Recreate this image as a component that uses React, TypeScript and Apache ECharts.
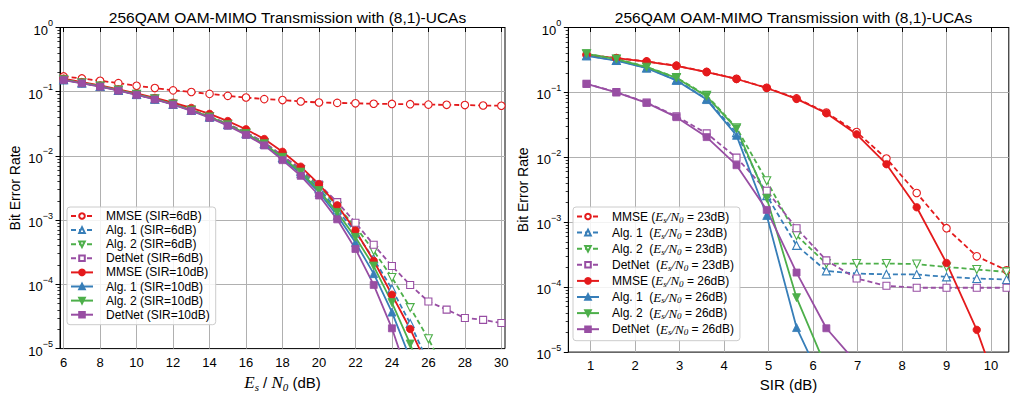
import React, { useEffect, useRef } from "react";
import * as echarts from "echarts";

// ---------------- data ----------------
const leftX = [6, 7, 8, 9, 10, 11, 12, 13, 14, 15, 16, 17, 18, 19, 20, 21, 22, 23, 24, 25, 26, 27, 28, 29, 30];
const leftTicks = [6, 8, 10, 12, 14, 16, 18, 20, 22, 24, 26, 28, 30];

const mmse6 = [0.173, 0.161, 0.148, 0.136, 0.124, 0.114, 0.105, 0.099, 0.0925, 0.0862, 0.0812, 0.0767, 0.0741, 0.0705, 0.068, 0.067, 0.066, 0.065, 0.0645, 0.064, 0.063, 0.0625, 0.062, 0.061, 0.0605];
const alg1_6 = [0.154, 0.137, 0.121, 0.105, 0.0905, 0.0768, 0.064, 0.0515, 0.0405, 0.0308, 0.0225, 0.0157, 0.0095, 0.0058, 0.0031, 0.00145, 0.00065, 0.00025, 0.000085, 0.0000247, 0.000006];
const alg2_6 = [0.155, 0.138, 0.122, 0.106, 0.091, 0.0773, 0.0645, 0.052, 0.041, 0.0312, 0.0228, 0.016, 0.0098, 0.0061, 0.0034, 0.00165, 0.00079, 0.000334, 0.000128, 0.0000435, 0.0000142, 0.000004];
const detnet6 = [0.156, 0.138, 0.122, 0.106, 0.0912, 0.0775, 0.0648, 0.0523, 0.0413, 0.0316, 0.0232, 0.0163, 0.0101, 0.0063, 0.0036, 0.00191, 0.00091, 0.000415, 0.000193, 0.000098, 0.000054, 0.0000405, 0.00003, 0.000028, 0.000025];
const mmse10 = [0.16, 0.141, 0.125, 0.109, 0.094, 0.08, 0.0674, 0.0559, 0.0452, 0.0349, 0.026, 0.0183, 0.0116, 0.0068, 0.00365, 0.0017, 0.000688, 0.000233, 0.000069, 0.0000202, 0.000005];
const alg1_10 = [0.153, 0.136, 0.121, 0.105, 0.09, 0.0765, 0.0635, 0.051, 0.04, 0.0302, 0.0218, 0.015, 0.0091, 0.0053, 0.0027, 0.00118, 0.00045, 0.000147, 0.000037, 0.000007];
const alg2_10 = [0.154, 0.137, 0.122, 0.106, 0.091, 0.0772, 0.0642, 0.0516, 0.0405, 0.0307, 0.0223, 0.0155, 0.0095, 0.0056, 0.00289, 0.00132, 0.00054, 0.000193, 0.000052, 0.0000118, 0.000002];
const detnet10 = [0.152, 0.135, 0.12, 0.104, 0.0893, 0.0757, 0.0628, 0.0502, 0.0393, 0.0296, 0.0213, 0.0146, 0.0086, 0.0049, 0.00242, 0.00103, 0.000356, 0.000098, 0.0000207, 0.000003];

const rightX = [0.91, 1.58, 2.26, 2.93, 3.61, 4.28, 4.96, 5.63, 6.3, 6.98, 7.65, 8.33, 9.0, 9.68, 10.35];
const rightTicks = [1, 2, 3, 4, 5, 6, 7, 8, 9, 10];

const mmse23 = [0.38, 0.338, 0.3, 0.258, 0.207, 0.162, 0.118, 0.081, 0.049, 0.0245, 0.00958, 0.00282, 0.00081, 0.000299, 0.000182];
const alg1_23 = [0.368, 0.312, 0.239, 0.155, 0.079, 0.024, 0.00257, 0.00044, 0.000178, 0.000162, 0.000158, 0.000157, 0.000144, 0.000136, 0.000131];
const alg2_23 = [0.395, 0.328, 0.247, 0.169, 0.09, 0.0286, 0.00435, 0.000626, 0.000231, 0.000231, 0.000231, 0.000227, 0.000205, 0.000187, 0.000172];
const detnet23 = [0.136, 0.101, 0.07, 0.043, 0.0234, 0.0099, 0.00306, 0.00081, 0.000259, 0.000136, 0.000105, 0.000098, 0.000098, 0.000098, 0.000098];
const mmse26 = [0.379, 0.337, 0.299, 0.257, 0.206, 0.161, 0.117, 0.0795, 0.0477, 0.0226, 0.00784, 0.0017, 0.000236, 0.000022, 0.00000115];
const alg1_26 = [0.366, 0.31, 0.237, 0.153, 0.0776, 0.0218, 0.00127, 0.0000239, 0.0000025];
const alg2_26 = [0.393, 0.326, 0.245, 0.167, 0.0871, 0.0276, 0.00234, 0.000069, 0.0000057];
const detnet26 = [0.135, 0.1, 0.069, 0.0416, 0.0205, 0.00757, 0.00155, 0.000168, 0.0000233, 0.0000068];

const minorTicks: number[] = [];
for (let e = -5; e < 0; e++) for (let k = 2; k <= 9; k++) minorTicks.push(Math.log10(k) + e);

// ---------------- style ----------------
const RED = "#e41a1c";
const BLUE = "#377eb8";
const GREEN = "#4daf4a";
const PURPLE = "#984ea3";
const SANS = "Liberation Sans";
const SERIF = "Liberation Serif";

type Mk = "circle" | "up" | "down" | "rect";

function mk(name: string, xs: number[], ys: number[], color: string, marker: Mk, filled: boolean, dashed: boolean, gi: number) {
  const symbol = marker === "circle" ? "circle" : marker === "rect" ? "rect" : "triangle";
  const size = marker === "circle" ? 7.5 : marker === "rect" ? 7 : 8;
  return {
    type: "line",
    name,
    xAxisIndex: gi,
    yAxisIndex: gi,
    data: ys.map((v, i) => [xs[i], v]),
    symbol,
    symbolSize: size,
    symbolRotate: marker === "down" ? 180 : 0,
    showSymbol: true,
    clip: true,
    itemStyle: { color: filled ? color : "#ffffff", borderColor: color, borderWidth: filled ? 0.8 : 1.1 },
    lineStyle: { color, width: 1.8, type: dashed ? [5, 3] : "solid" },
    emphasis: { disabled: true },
  };
}

const supRich = {
  b: { fontSize: 13, fontFamily: SANS, color: "#000", lineHeight: 18, verticalAlign: "bottom" },
  s: { fontSize: 9, fontFamily: SANS, color: "#000", lineHeight: 10, verticalAlign: "top" },
};

function logLabel(v: number) {
  const e = Math.round(Math.log10(v));
  const t = e < 0 ? "\u2212" + Math.abs(e) : String(e);
  return `{b|10}{s|${t}}`;
}

function xAxisCfg(gi: number, min: number, max: number, ticks: number[], name: string, rich: any) {
  return {
    type: "value",
    gridIndex: gi,
    min,
    max,
    axisLine: { show: true, lineStyle: { color: "#000", width: 1 } },
    axisTick: { show: true, customValues: ticks, length: 4.5, lineStyle: { color: "#000", width: 1 } },
    axisLabel: { customValues: ticks, fontSize: 13, fontFamily: SANS, color: "#000", margin: 7 },
    splitLine: { show: true, lineStyle: { color: "#b0b0b0", width: 1 } },
    name,
    nameLocation: "middle",
    nameGap: 22,
    nameTextStyle: { rich, color: "#000", fontFamily: SANS, fontSize: 14, verticalAlign: "top" },
  };
}

function yAxisCfg(gi: number) {
  return {
    type: "log",
    gridIndex: gi,
    position: "left",
    min: 1e-5,
    max: 1,
    logBase: 10,
    splitNumber: 5,
    axisLine: { show: true, lineStyle: { color: "#000", width: 1 } },
    axisTick: { show: true, length: 4.5, lineStyle: { color: "#000", width: 1 } },
    axisLabel: { formatter: logLabel, rich: supRich, margin: 7 },
    splitLine: { show: true, showMinLine: false, showMaxLine: false, lineStyle: { color: "#b0b0b0", width: 1 } },
    minorTick: { show: false },
    name: "Bit Error Rate",
    nameLocation: "middle",
    nameGap: 38,
    nameTextStyle: { fontSize: 14, fontFamily: SANS, color: "#000" },
  };
}

function minorAxisCfg(gi: number) {
  return {
    type: "value",
    gridIndex: gi,
    position: "left",
    min: -5,
    max: 0,
    axisLine: { show: false },
    axisTick: { show: true, customValues: minorTicks, length: 2.6, lineStyle: { color: "#000", width: 0.8 } },
    axisLabel: { show: false, customValues: minorTicks },
    splitLine: { show: false },
  };
}

const leftNames = [
  "MMSE (SIR=6dB)", "Alg. 1 (SIR=6dB)", "Alg. 2 (SIR=6dB)", "DetNet (SIR=6dB)",
  "MMSE (SIR=10dB)", "Alg. 1 (SIR=10dB)", "Alg. 2 (SIR=10dB)", "DetNet (SIR=10dB)",
];
const rightNames = [
  "MMSE (Es/N0=23dB)", "Alg. 1 (Es/N0=23dB)", "Alg. 2 (Es/N0=23dB)", "DetNet (Es/N0=23dB)",
  "MMSE (Es/N0=26dB)", "Alg. 1 (Es/N0=26dB)", "Alg. 2 (Es/N0=26dB)", "DetNet (Es/N0=26dB)",
];

const legendRich = {
  t: { fontSize: 12, fontFamily: SANS, color: "#000", lineHeight: 15, verticalAlign: "middle" },
  i: { fontSize: 13, fontFamily: SERIF, fontStyle: "italic", color: "#000", lineHeight: 15, verticalAlign: "middle" },
  sub: { fontSize: 9, fontFamily: SERIF, fontStyle: "italic", color: "#000", lineHeight: 9, verticalAlign: "bottom" },
};

function rightLegendFmt(name: string) {
  const m = name.match(/^(.*?) \(Es\/N0=(\d+)dB\)$/);
  if (!m) return name;
  const pre = m[1] === "MMSE" ? "MMSE (" : m[1] + "  (";
  return `{t|${pre}}{i|E}{sub|s}{i|/N}{sub|0}{t| = ${m[2]}dB)}`;
}

function legendCfg(names: string[], left: number, fmt?: (n: string) => string) {
  return {
    show: true,
    data: names,
    orient: "vertical",
    left,
    top: 207,
    padding: [3, 6, 4, 3],
    itemGap: 2.1,
    itemWidth: 22,
    itemHeight: 7,
    backgroundColor: "rgba(255,255,255,0.85)",
    borderColor: "#cccccc",
    borderWidth: 1,
    borderRadius: 3,
    selectedMode: false,
    formatter: fmt ? fmt : (n: string) => `{t|${n}}`,
    textStyle: { fontSize: 12, fontFamily: SANS, color: "#000", padding: [0, 0, 0, 8], rich: legendRich },
  };
}

export default function App() {
  const ref = useRef<HTMLDivElement>(null);
  useEffect(() => {
    if (!ref.current) return;
    const chart = echarts.init(ref.current, null, { renderer: "svg" });
    const xNameRich = {
      t: { fontSize: 15, fontFamily: SANS, color: "#000", lineHeight: 20, verticalAlign: "middle" },
      i: { fontSize: 17, fontFamily: SERIF, fontStyle: "italic", color: "#000", lineHeight: 20, verticalAlign: "middle" },
      sub: { fontSize: 11, fontFamily: SERIF, fontStyle: "italic", color: "#000", lineHeight: 11, verticalAlign: "bottom" },
    };
    const option: any = {
      animation: false,
      backgroundColor: "#ffffff",
      title: [
        { text: "256QAM OAM-MIMO Transmission with (8,1)-UCAs", left: 282.5, top: 4, textAlign: "center", textStyle: { fontSize: 15.5, fontWeight: "normal", fontFamily: SANS, color: "#000" } },
        { text: "256QAM OAM-MIMO Transmission with (8,1)-UCAs", left: 788.5, top: 4, textAlign: "center", textStyle: { fontSize: 15.5, fontWeight: "normal", fontFamily: SANS, color: "#000" } },
      ],
      grid: [
        { left: 60, top: 27.5, width: 445, height: 325.5, show: true, borderColor: "#000", borderWidth: 1, backgroundColor: "transparent" },
        { left: 568.3, top: 27.5, width: 440.5, height: 325.5, show: true, borderColor: "#000", borderWidth: 1, backgroundColor: "transparent" },
      ],
      xAxis: [
        xAxisCfg(0, 5.8, 30.2, leftTicks, "{i|E}{sub|s}{t| / }{i|N}{sub|0}{t| (dB)}", xNameRich),
        xAxisCfg(1, 0.5, 10.4, rightTicks, "{t|SIR (dB)}", xNameRich),
      ],
      yAxis: [yAxisCfg(0), yAxisCfg(1), minorAxisCfg(0), minorAxisCfg(1)],
      legend: [legendCfg(leftNames, 67), legendCfg(rightNames, 573, rightLegendFmt)],
      series: [
        mk(leftNames[0], leftX, mmse6, RED, "circle", false, true, 0),
        mk(leftNames[1], leftX, alg1_6, BLUE, "up", false, true, 0),
        mk(leftNames[2], leftX, alg2_6, GREEN, "down", false, true, 0),
        mk(leftNames[3], leftX, detnet6, PURPLE, "rect", false, true, 0),
        mk(leftNames[4], leftX, mmse10, RED, "circle", true, false, 0),
        mk(leftNames[5], leftX, alg1_10, BLUE, "up", true, false, 0),
        mk(leftNames[6], leftX, alg2_10, GREEN, "down", true, false, 0),
        mk(leftNames[7], leftX, detnet10, PURPLE, "rect", true, false, 0),
        mk(rightNames[0], rightX, mmse23, RED, "circle", false, true, 1),
        mk(rightNames[1], rightX, alg1_23, BLUE, "up", false, true, 1),
        mk(rightNames[2], rightX, alg2_23, GREEN, "down", false, true, 1),
        mk(rightNames[3], rightX, detnet23, PURPLE, "rect", false, true, 1),
        mk(rightNames[4], rightX, mmse26, RED, "circle", true, false, 1),
        mk(rightNames[5], rightX, alg1_26, BLUE, "up", true, false, 1),
        mk(rightNames[6], rightX, alg2_26, GREEN, "down", true, false, 1),
        mk(rightNames[7], rightX, detnet26, PURPLE, "rect", true, false, 1),
      ],
    };
    chart.setOption(option);
    return () => chart.dispose();
  }, []);
  return (
    <div
      ref={ref}
      style={{ position: "fixed", left: 0, top: 0, width: 1010, height: 397, background: "#fff" }}
    />
  );
}
